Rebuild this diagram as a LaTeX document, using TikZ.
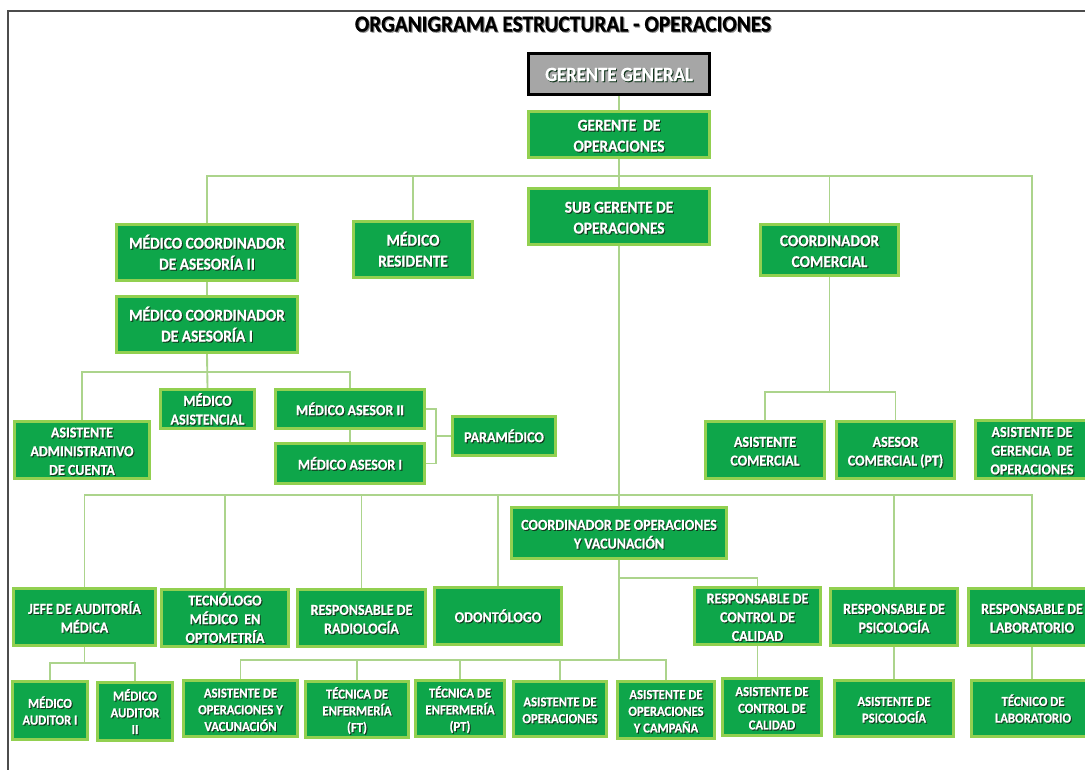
\documentclass[tikz,border=0pt]{standalone}
\usepackage{fontspec}
\usepackage{graphicx}
\setmainfont{Carlito}[BoldFeatures={FakeBold=0.7}]
\definecolor{gfill}{RGB}{14,166,74}
\definecolor{gbord}{RGB}{146,208,80}
\definecolor{gline}{RGB}{172,212,140}
\definecolor{ggray}{RGB}{166,166,166}
\definecolor{shd}{RGB}{20,55,30}
\definecolor{tshd}{RGB}{140,140,140}
\newcommand\tx[1]{\scalebox{1}[1.08]{\begin{tabular}{@{}c@{}}#1\end{tabular}}}
\newcommand\shtx[2][shd]{\raisebox{-2.2pt}[\height][\depth]{\rlap{\kern0.8pt\raisebox{-0.8pt}{\color{#1}\tx{#2}}}\tx{#2}}}
\newcommand\obox[7][bx]{%
 \pgfmathsetmacro\obcx{(#3+#5)/2}%
 \pgfmathsetmacro\obcy{(#4+#6)/2}%
 \pgfmathsetmacro\obw{(#5-#3)*0.75-2}%
 \pgfmathsetmacro\obh{(#6-#4)*0.75-2}%
 \node[#1, minimum width=\obw pt, minimum height=\obh pt] (#2) at (\obcx,\obcy) {\shtx{#7}};}
\tikzset{
 bx/.style={draw=gbord, line width=2.2pt, fill=gfill, text=white, inner sep=0pt,
   font=\fontsize{11.5}{14.5}\selectfont\bfseries},
 bxm/.style={bx, font=\fontsize{10.5}{13}\selectfont\bfseries},
 bxs/.style={bx, font=\fontsize{9.5}{11.6}\selectfont\bfseries},
 gbx/.style={bx, fill=ggray, draw=black, line width=2.4pt, font=\fontsize{14}{16}\selectfont\bfseries},
 ln/.style={draw=gline, line width=1.4pt},
}
\begin{document}
\begin{tikzpicture}[x=0.75pt, y=-0.75pt]
\useasboundingbox (0,0) rectangle (1085,769);
\fill[white] (0,0) rectangle (1085,769);
\draw[black!70, line width=1.5pt] (8,775) -- (8,11) -- (1090,11);
\node[inner sep=0pt, font=\fontsize{16}{18}\selectfont\bfseries] (title) at (563,24)
  {\shtx[tshd]{ORGANIGRAMA ESTRUCTURAL - OPERACIONES}};
% level 0-2
\obox[gbx]{gg}{527}{52}{711}{96}{GERENTE GENERAL}
\obox{go}{527}{110}{711}{159}{GERENTE\ \ DE\\OPERACIONES}
\obox{sg}{527}{187}{711}{246}{SUB GERENTE DE\\OPERACIONES}
\obox{mc2}{115}{223}{299}{282}{MÉDICO COORDINADOR\\DE ASESORÍA II}
\obox{mr}{352}{220}{474}{279}{MÉDICO\\RESIDENTE}
\obox{cc}{759}{223}{900}{277}{COORDINADOR\\COMERCIAL}
\obox{mc1}{115}{295}{299}{354}{MÉDICO COORDINADOR\\DE ASESORÍA I}
% level 3
\obox[bxm]{aac}{13}{420}{151}{480}{ASISTENTE\\ADMINISTRATIVO\\DE CUENTA}
\obox[bxm]{mas}{159}{388}{256}{430}{MÉDICO\\ASISTENCIAL}
\obox[bxm]{ma2}{274}{388}{426}{430}{MÉDICO ASESOR II}
\obox[bxm]{ma1}{274}{442}{426}{485}{MÉDICO ASESOR I}
\obox[bxm]{par}{451}{415}{557}{457}{PARAMÉDICO}
\obox[bxm]{ac}{704}{420}{826}{480}{ASISTENTE\\COMERCIAL}
\obox[bxm]{acp}{835}{420}{956}{480}{ASESOR\\COMERCIAL (PT)}
\obox[bxm]{ago}{974}{419}{1090}{480}{ASISTENTE DE\\GERENCIA\ \ DE\\OPERACIONES}
% level 4
\obox[bxm]{cov}{510}{506}{728}{560}{COORDINADOR DE OPERACIONES\\Y VACUNACIÓN}
\obox[bxm]{jam}{12}{587}{157}{647}{JEFE DE AUDITORÍA\\MÉDICA}
\obox[bxm]{tmo}{160}{588}{290}{648}{TECNÓLOGO\\MÉDICO\ \ EN\\OPTOMETRÍA}
\obox[bxm]{rr}{296}{588}{427}{648}{RESPONSABLE DE\\RADIOLOGÍA}
\obox[bxm]{odo}{433}{586}{563}{646}{ODONTÓLOGO}
\obox[bxm]{rcc}{693}{586}{822}{646}{RESPONSABLE DE\\CONTROL DE\\CALIDAD}
\obox[bxm]{rps}{829}{587}{959}{647}{RESPONSABLE DE\\PSICOLOGÍA}
\obox[bxm]{rlb}{967}{587}{1097}{647}{RESPONSABLE DE\\LABORATORIO}
% level 5
\obox[bxs]{mau1}{11}{680}{89}{741}{MÉDICO\\AUDITOR I}
\obox[bxs]{mau2}{96}{681}{174}{742}{MÉDICO\\AUDITOR\\II}
\obox[bxs]{aov}{182}{679}{299}{738}{ASISTENTE DE\\OPERACIONES Y\\VACUNACIÓN}
\obox[bxs]{tef}{304}{680}{410}{739}{TÉCNICA DE\\ENFERMERÍA\\(FT)}
\obox[bxs]{tep}{414}{679}{506}{738}{TÉCNICA DE\\ENFERMERÍA\\(PT)}
\obox[bxs]{aop}{512}{680}{608}{738}{ASISTENTE DE\\OPERACIONES}
\obox[bxs]{aoc}{616}{680}{716}{740}{ASISTENTE DE\\OPERACIONES\\Y CAMPAÑA}
\obox[bxs]{acc}{721}{677}{823}{737}{ASISTENTE DE\\CONTROL DE\\CALIDAD}
\obox[bxs]{aps}{833}{679}{955}{738}{ASISTENTE DE\\PSICOLOGÍA}
\obox[bxs]{tlb}{970}{679}{1096}{738}{TÉCNICO DE\\LABORATORIO}
% bus coordinates
\coordinate (b1) at (619,176);
\coordinate (b2) at (619,495);
\coordinate (b3) at (619,660);
\coordinate (bm) at (207,372);
\coordinate (bc) at (829.5,392);
\coordinate (bj) at (84.5,663);
\coordinate (bk) at (436,436);
\coordinate (bq) at (619,578);
% connectors
\draw[ln] (gg.south) -- (go.north);
\draw[ln] (go.south) -- (sg.north);
\draw[ln] (mc2.north) |- (b1) -| (ago.north);
\draw[ln] (mr.north) -- (mr.north |- b1);
\draw[ln] (cc.north) -- (cc.north |- b1);
\draw[ln] (mc2.south) -- (mc1.north);
\draw[ln] (mc1.south) -- (mas.north);
\draw[ln] (aac.north) |- (bm) -| (ma2.north);
\draw[ln] (ma2.south) -- (ma1.north);
\draw[ln] (ma2.east) -| (bk);
\draw[ln] (ma1.east) -| (bk);
\draw[ln] (bk) -- (par.west);
\draw[ln] (cc.south) -- (bc);
\draw[ln] (ac.north) |- (bc) -| (acp.north);
\draw[ln] (sg.south) -- (cov.north);
\draw[ln] (jam.north) |- (b2) -| (rlb.north);
\draw[ln] (tmo.north) -- (tmo.north |- b2);
\draw[ln] (rr.north) -- (rr.north |- b2);
\draw[ln] (odo.north) -- (odo.north |- b2);
\draw[ln] (rps.north) -- (rps.north |- b2);
\draw[ln] (cov.south) -- (b3);
\draw[ln] (aov.north) |- (b3) -| (aoc.north);
\draw[ln] (tef.north) -- (tef.north |- b3);
\draw[ln] (tep.north) -- (tep.north |- b3);
\draw[ln] (aop.north) -- (aop.north |- b3);
\draw[ln] (bq) -| (rcc.north);
\draw[ln] (rcc.south) -- (rcc.south |- acc.north);
\draw[ln] (rps.south) -- (aps.north);
\draw[ln] (rlb.south) -- (rlb.south |- tlb.north);
\draw[ln] (jam.south) -- (bj);
\draw[ln] (mau1.north) |- (bj) -| (mau2.north);
\end{tikzpicture}
\end{document}
